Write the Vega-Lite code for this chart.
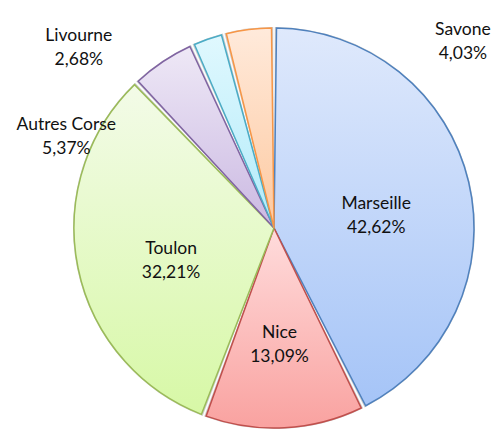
{
  "$schema": "https://vega.github.io/schema/vega-lite/v6.json",
  "width": 400,
  "height": 400,
  "autosize": "none",
  "padding": {"left": 74, "top": 28, "right": 29, "bottom": 4},
  "background": "white",
  "config": {"view": {"stroke": null}, "text": {"font": "Lato", "fontSize": 17.5, "color": "#111111"}},
  "data": {
    "values": [
      {"city": "Marseille", "order": 1, "value": 42.62, "label": ["Marseille", "42,62%"]},
      {"city": "Nice", "order": 2, "value": 13.09, "label": ["Nice", "13,09%"]},
      {"city": "Toulon", "order": 3, "value": 32.21, "label": ["Toulon", "32,21%"]},
      {"city": "Autres Corse", "order": 4, "value": 5.37, "label": ["Autres Corse", "5,37%"]},
      {"city": "Livourne", "order": 5, "value": 2.68, "label": ["Livourne", "2,68%"]},
      {"city": "Savone", "order": 6, "value": 4.03, "label": ["Savone", "4,03%"]}
    ]
  },
  "encoding": {
    "theta": {"field": "value", "type": "quantitative", "stack": true},
    "order": {"field": "order", "type": "quantitative"}
  },
  "layer": [
    {
      "mark": {"type": "arc", "padAngle": 0.008, "radius": 201, "fill": "#cfcfcf", "stroke": null}
    },
    {
      "mark": {"type": "arc", "padAngle": 0.025, "strokeWidth": 1.5},
      "encoding": {
        "stroke": {
          "field": "city", "type": "nominal", "legend": null,
          "scale": {
            "domain": ["Marseille", "Nice", "Toulon", "Autres Corse", "Livourne", "Savone"],
            "range": ["#4f81bd", "#c0504d", "#9bbb59", "#8064a2", "#4bacc6", "#f79646"]
          }
        },
        "fill": {
          "condition": [
            {"test": "datum.city === 'Marseille'", "value": {"gradient": "linear", "x1": 0, "y1": 0, "x2": 0, "y2": 1, "stops": [{"offset": 0, "color": "#dfe9fc"}, {"offset": 1, "color": "#a5c4f7"}]}},
            {"test": "datum.city === 'Nice'", "value": {"gradient": "linear", "x1": 0, "y1": 0, "x2": 0, "y2": 1, "stops": [{"offset": 0, "color": "#ffdcdc"}, {"offset": 1, "color": "#f9a2a0"}]}},
            {"test": "datum.city === 'Toulon'", "value": {"gradient": "linear", "x1": 0, "y1": 0, "x2": 0, "y2": 1, "stops": [{"offset": 0, "color": "#f3fbe8"}, {"offset": 1, "color": "#d7f8a6"}]}},
            {"test": "datum.city === 'Autres Corse'", "value": {"gradient": "linear", "x1": 0, "y1": 0, "x2": 0, "y2": 1, "stops": [{"offset": 0, "color": "#eee8f6"}, {"offset": 1, "color": "#cbb9e2"}]}},
            {"test": "datum.city === 'Livourne'", "value": {"gradient": "linear", "x1": 0, "y1": 0, "x2": 0, "y2": 1, "stops": [{"offset": 0, "color": "#e0f8fe"}, {"offset": 1, "color": "#b2ebfa"}]}}
          ],
          "value": {"gradient": "linear", "x1": 0, "y1": 0, "x2": 0, "y2": 1, "stops": [{"offset": 0, "color": "#ffeadb"}, {"offset": 1, "color": "#fdc9a0"}]}
        }
      }
    },
    {
      "mark": {"type": "text", "radius": 105, "lineHeight": 24, "baseline": "middle"},
      "encoding": {
        "text": {"condition": {"test": "datum.order <= 3", "field": "label"}, "value": ""}
      }
    },
    {
      "mark": {"type": "text", "radius": 215, "lineHeight": 24, "baseline": "middle", "dx": -88, "dy": 76},
      "encoding": {
        "text": {"condition": {"test": "datum.city === 'Autres Corse'", "field": "label"}, "value": ""}
      }
    },
    {
      "mark": {"type": "text", "radius": 215, "lineHeight": 24, "baseline": "middle", "dx": -124, "dy": 11},
      "encoding": {
        "text": {"condition": {"test": "datum.city === 'Livourne'", "field": "label"}, "value": ""}
      }
    },
    {
      "mark": {"type": "text", "radius": 215, "lineHeight": 24, "baseline": "middle", "dx": 216, "dy": 15},
      "encoding": {
        "text": {"condition": {"test": "datum.city === 'Savone'", "field": "label"}, "value": ""}
      }
    }
  ]
}
